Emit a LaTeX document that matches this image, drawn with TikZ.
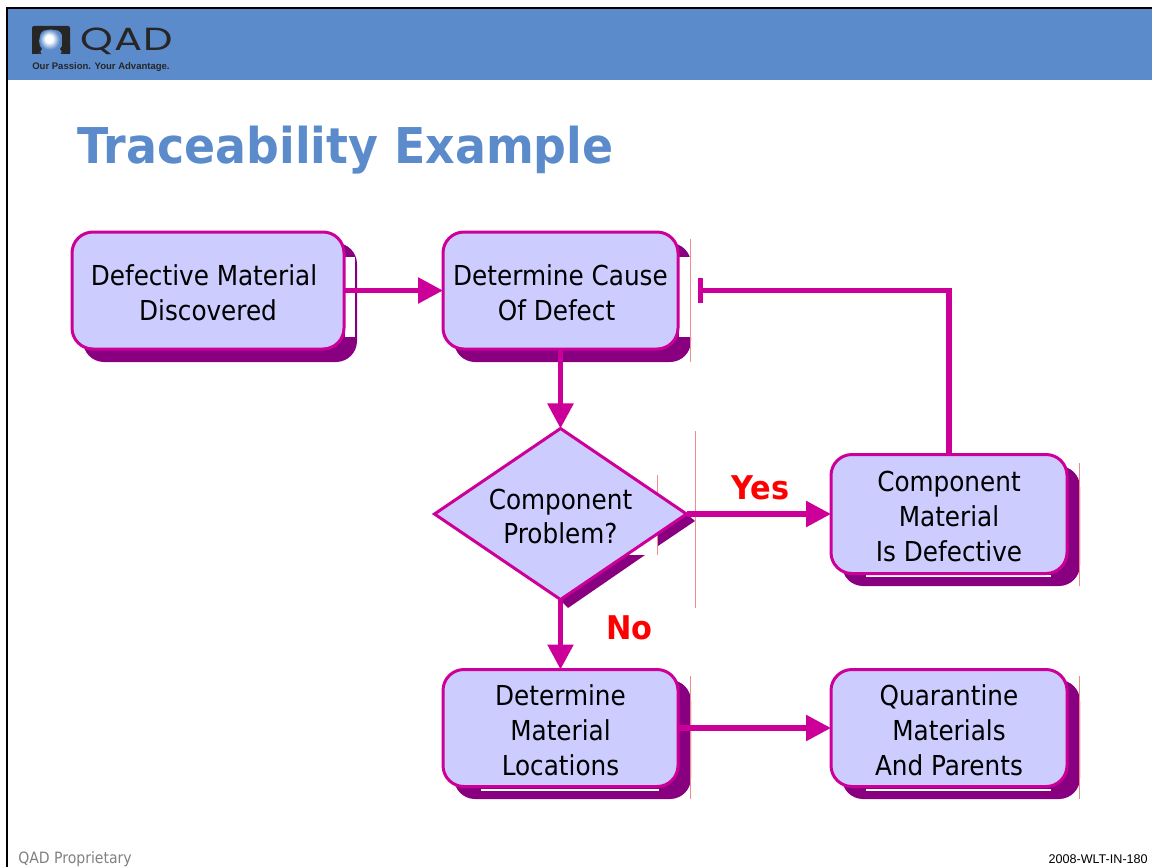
\documentclass[tikz,border=0pt]{standalone}
\usepackage{fontspec}
\usetikzlibrary{arrows.meta,shapes.geometric}
\setmainfont{DejaVu Sans Condensed}
\newfontfamily\titlefont[FakeStretch=0.93]{DejaVu Sans Bold}
\newfontfamily\armfont{Liberation Sans}
\newfontfamily\logofont[FakeStretch=1.3,LetterSpace=3]{Poppins}
\definecolor{banner}{HTML}{5B8BCB}
\definecolor{mag}{HTML}{CC0099}
\definecolor{shade}{HTML}{880080}
\definecolor{fillb}{HTML}{CCCCFF}
\definecolor{hair}{HTML}{F08C8C}
\newcommand{\lowertext}{\rule{0pt}{18.6pt}}
\pgfdeclareradialshading{logoball}{\pgfpoint{-4bp}{6bp}}{color(0bp)=(white);color(8bp)=(white);color(22bp)=(banner);color(50bp)=(banner)}
\tikzset{
  stepbox/.style={draw=mag,fill=fillb,line width=3*0.75pt,rounded corners=21*0.75pt,outer sep=0pt,inner sep=0pt,
    align=center,text=black,font=\fontsize{20.6}{26.25}\selectfont},
  decisionbox/.style={draw=mag,fill=fillb,line width=3*0.75pt,diamond,aspect=1.47,outer sep=0pt,inner sep=0pt,
    align=center,text=black,font=\fontsize{20.6}{25.5}\selectfont},
  shadowpart/.style={fill=shade,draw=none},
  hairline/.style={draw=hair,line width=0.9*0.75pt},
  link/.style={draw=mag,line width=5.5*0.75pt,-{Triangle[length=25*0.75pt,width=25*0.75pt]}},
  tag/.style={text=red,font=\titlefont\fontsize{24.5}{30}\selectfont,inner sep=0pt},
}
\begin{document}
\begin{tikzpicture}[x=0.75pt,y=-0.75pt]
\useasboundingbox (0,0) rectangle (1152,867);
% banner and frame
\fill[banner] (8,9) rectangle (1152,80);
\fill[black] (6,7) rectangle (1152,9);
\fill[black] (6,7) rectangle (8,867);
% logo
\fill[black!85,rounded corners=1.5] (32,26) rectangle (70,54);
\fill[banner,rounded corners=6] (38.5,56) -- (41,46) -- (39,30) -- (63,30) -- (61,46) -- (63.5,56) -- cycle;
\shade[shading=logoball] (50.5,41) circle (11.5);
\fill[black!85] (32,46) -- (40,46) -- (42,49) -- (38,54) -- (32,54) -- cycle;
\fill[black!85] (70,46) -- (62,46) -- (60,49) -- (64,54) -- (70,54) -- cycle;
\node[anchor=base west,inner sep=0pt,text=black!85,font=\logofont\fontsize{24}{28}\selectfont] (logoname) at (80,51) {QAD};
\node[anchor=base west,inner sep=0pt,text=black!85,font=\armfont\bfseries\fontsize{7.15}{9}\selectfont] (logotag) at (32,69.5) {Our Passion. Your Advantage.};
% title
\node[anchor=base west,inner sep=0pt,text=banner,font=\titlefont\fontsize{37}{44}\selectfont] (title) at (77,163) {Traceability Example};
% shadows
\fill[shadowpart,rounded corners=21*0.75pt] (83,243) rectangle (357,362);
\fill[white] (345,257) rectangle (355,337);
\fill[shadowpart,rounded corners=21*0.75pt] (454,243) rectangle (691,362);
\fill[white] (679,257) rectangle (692,337);
\fill[shadowpart,rounded corners=21*0.75pt] (842,466) rectangle (1080,586);
\fill[white] (866,575) rectangle (1051,577);
\fill[shadowpart,rounded corners=21*0.75pt] (454,680) rectangle (691,799);
\fill[white] (481,789) rectangle (659,791);
\fill[shadowpart,rounded corners=21*0.75pt] (842,680) rectangle (1080,799);
\fill[white] (866,789) rectangle (1051,791);
\fill[shadowpart] (560,600) -- (628,555) -- (645,555) -- (568,608) -- cycle;
\fill[shadowpart] (658,534) -- (687,514) -- (695,521) -- (658,546) -- cycle;
% hairlines
\draw[hairline] (690.5,239) -- (690.5,362);
\draw[hairline] (1079.5,463) -- (1079.5,586);
\draw[hairline] (690.5,676) -- (690.5,799);
\draw[hairline] (1079.5,676) -- (1079.5,799);
\draw[hairline] (657.5,475) -- (657.5,555);
\draw[hairline] (695.5,431) -- (695.5,608);
% nodes
\node[stepbox,minimum width=272*0.75pt,minimum height=117*0.75pt] (defect) at (208,290.5) {\lowertext Defective Material\hspace*{6pt}\\Discovered};
\node[stepbox,minimum width=235*0.75pt,minimum height=117*0.75pt] (cause) at (560.5,290.5) {\lowertext Determine Cause\\Of Defect\hspace*{6pt}};
\node[decisionbox,minimum width=252*0.75pt,minimum height=171*0.75pt] (problem) at (560.5,514) {\lowertext Component\\Problem?};
\node[stepbox,minimum width=236*0.75pt,minimum height=119*0.75pt] (comp) at (949,514) {\lowertext Component\\Material\\Is Defective};
\node[stepbox,minimum width=235*0.75pt,minimum height=117*0.75pt] (locs) at (560.5,728) {\lowertext Determine\\Material\\Locations};
\node[stepbox,minimum width=236*0.75pt,minimum height=117*0.75pt] (quar) at (949,728) {\lowertext Quarantine\\Materials\\And Parents};
% connectors
\coordinate (barend) at (698,290.5);
\draw[link] (defect) -- (cause);
\draw[link] (cause) -- (problem);
\draw[link] (problem) -- (comp);
\draw[link] (problem) -- (locs);
\draw[link] (locs) -- (quar);
\draw[draw=mag,line width=5.5*0.75pt,-{Bar[width=25*0.75pt,line width=5*0.75pt]}] (comp.north) |- (barend);
% labels
\node[tag,anchor=base west] (yes) at (731,499) {Yes};
\node[tag,anchor=base west] (no) at (606,639) {No};
% footer
\node[anchor=base west,inner sep=0pt,text=black!50,font=\fontsize{11.7}{14}\selectfont] (prop) at (18,863) {QAD Proprietary};
\node[anchor=base east,inner sep=0pt,text=black,font=\armfont\fontsize{9.45}{12}\selectfont] (code) at (1148,863) {2008-WLT-IN-180};
\end{tikzpicture}
\end{document}
